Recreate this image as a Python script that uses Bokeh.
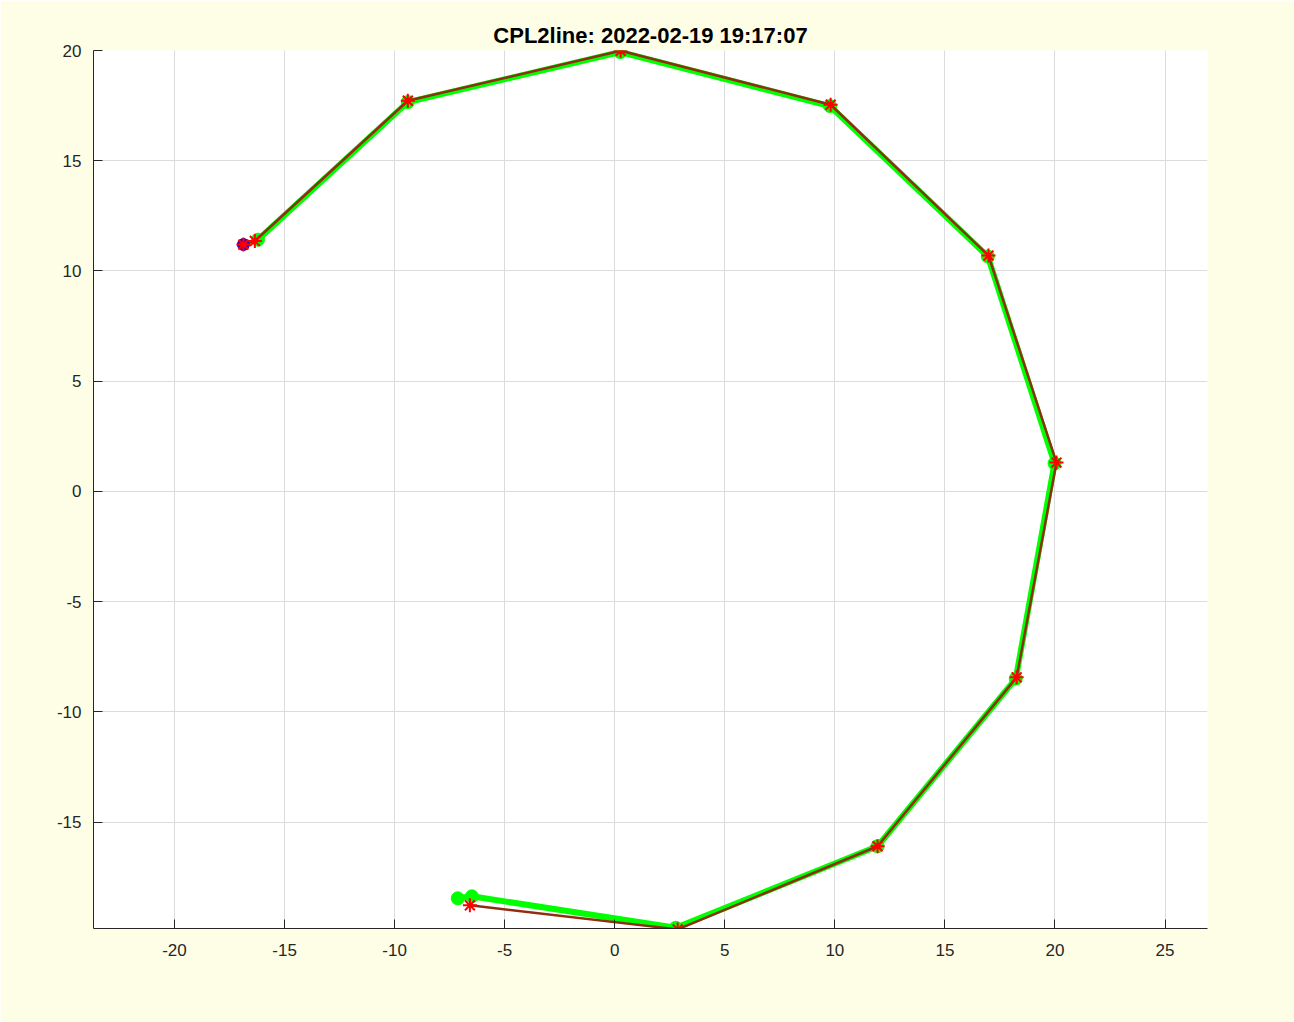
from bokeh.plotting import figure
from bokeh.embed import file_html
from bokeh.resources import INLINE
from bokeh.models import Range1d, FixedTicker

title_text = "CPL2line: 2022-02-19 19:17:07"

# Red (measured) polyline
red_x = [-16.87, -16.35, -9.40, 0.27, 9.81, 16.98, 20.07, 18.26, 11.94, 2.86, -6.58]
red_y = [11.20, 11.36, 17.72, 19.99, 17.54, 10.70, 1.31, -8.43, -16.09, -19.86, -18.77]

# Green (fitted) polyline
green_x = [-16.21, -9.40, 0.25, 9.78, 16.95, 19.98, 18.22, 11.94, 2.77, -6.49, -7.13]
green_y = [11.42, 17.66, 19.93, 17.48, 10.66, 1.28, -8.49, -16.09, -19.79, -18.36, -18.45]

# Blue start point
blue_x = [-16.87]
blue_y = [11.20]

x_ticks = [-20, -15, -10, -5, 0, 5, 10, 15, 20, 25]
y_ticks = [-15, -10, -5, 0, 5, 10, 15, 20]

p = figure(width=1294, height=1022, output_backend="svg", toolbar_location=None,
           x_range=Range1d(-23.68, 26.93), y_range=Range1d(-19.82, 20.0),
           min_border_left=93, min_border_right=87, min_border_top=50, min_border_bottom=94)

p.title.text = title_text
p.title.align = "center"
p.title.text_font = "Liberation Sans"
p.title.text_font_size = "22px"
p.title.text_font_style = "bold"
p.title.text_color = "#000000"
p.title.standoff = 6

p.background_fill_color = "#FFFFFF"
p.border_fill_color = "#FEFEE6"
p.outline_line_color = None

for ax, ticks in ((p.xaxis[0], x_ticks), (p.yaxis[0], y_ticks)):
    ax.ticker = FixedTicker(ticks=ticks)
    ax.major_label_overrides = {t: str(t) for t in ticks}
    ax.axis_line_color = "#262626"
    ax.axis_line_width = 1
    ax.major_tick_in = 9
    ax.major_tick_out = 0
    ax.minor_tick_line_color = None
    ax.major_tick_line_color = "#262626"
    ax.major_label_text_font = "Liberation Sans"
    ax.major_label_text_font_size = "17px"
    ax.major_label_text_color = "#262626"

p.xaxis[0].major_label_standoff = 15
p.yaxis[0].major_label_standoff = 12

p.xgrid.ticker = FixedTicker(ticks=x_ticks)
p.ygrid.ticker = FixedTicker(ticks=y_ticks)
p.grid.grid_line_color = "#DCDCDC"
p.grid.grid_line_width = 1

# Green line + dots
p.line(green_x, green_y, line_color="#00FF00", line_width=6)
p.scatter(green_x, green_y, marker="circle", size=13, fill_color="#00FF00", line_color="#00FF00")

# Red line + asterisks
p.line(red_x, red_y, line_color="#8E2F12", line_width=2.5)
p.scatter(blue_x, blue_y, marker="circle", size=12, fill_color="#2B00D9", line_color="#2B00D9")
p.scatter(red_x, red_y, marker="asterisk", size=14, line_color="#FF0000", line_width=2)

open("out.html", "w").write(file_html(p, INLINE))
